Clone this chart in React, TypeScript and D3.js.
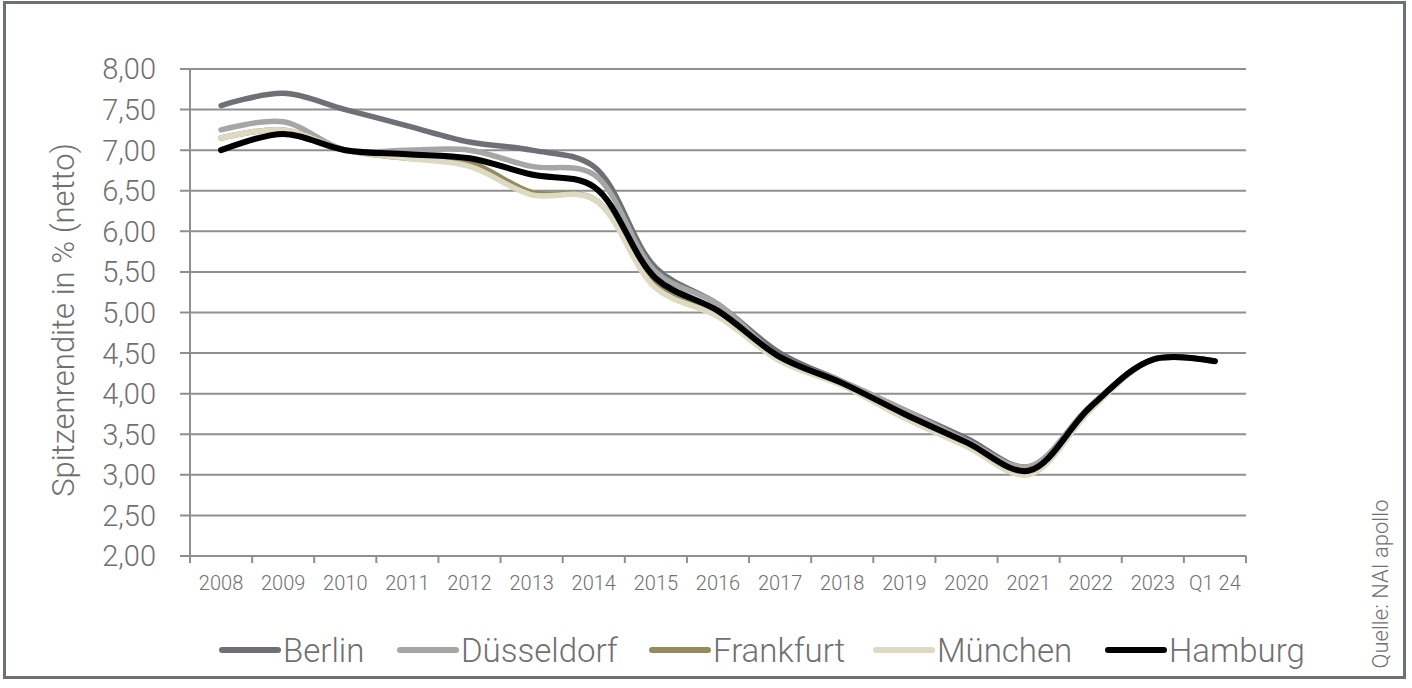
import React from "react";
import * as d3 from "d3";

const categories = ["2008","2009","2010","2011","2012","2013","2014","2015","2016","2017","2018","2019","2020","2021","2022","2023","Q1 24"];
const berlin = [7.55,7.70,7.50,7.30,7.10,7.00,6.80,5.55,5.10,4.50,4.15,3.80,3.45,3.10,3.85,4.42,4.40];
const duesseldorf = [7.25,7.35,7.00,7.00,7.00,6.80,6.70,5.50,5.10,4.45,4.15,3.80,3.42,3.10,3.85,4.42,4.40];
const frankfurt = [7.15,7.25,7.00,6.90,6.85,6.48,6.40,5.35,4.98,4.42,4.12,3.72,3.37,3.02,3.82,4.42,4.40];
const muenchen = [7.15,7.25,7.00,6.90,6.80,6.45,6.40,5.30,4.95,4.40,4.10,3.70,3.35,3.00,3.80,4.42,4.40];
const hamburg = [7.00,7.20,7.00,6.95,6.90,6.70,6.55,5.42,5.02,4.45,4.13,3.75,3.40,3.05,3.84,4.42,4.40];
const yTicks = [2,2.5,3,3.5,4,4.5,5,5.5,6,6.5,7,7.5,8];

const seriesNames = ["Berlin","Düsseldorf","Frankfurt","München","Hamburg"];
const seriesValues = [berlin, duesseldorf, frankfurt, muenchen, hamburg];
const seriesColors = ["#6d7075","#a6a6a6","#948a5c","#ddd9c3","#000000"];

const FONT = "'Helvetica Neue', Roboto, 'Liberation Sans', Arial, sans-serif";

export default function App() {
  const W = 1412, H = 688;
  const left = 190, right = 1246, top = 69, bottom = 556;
  const x = d3.scaleBand<string>().domain(categories).range([left, right]);
  const cx = (c: string) => (x(c) as number) + x.bandwidth() / 2;
  const y = d3.scaleLinear().domain([2, 8]).range([bottom, top]);
  const line = d3.line<number>()
    .x((_, i) => cx(categories[i]))
    .y((v) => y(v))
    .curve(d3.curveCatmullRom.alpha(0.5));
  const fmt = (v: number) => v.toFixed(2).replace(".", ",");
  const gridColor = "#8f8f8f";
  const textColor = "#707070";

  const legendX = [222, 400, 652, 876, 1108];

  return (
    <svg width={W} height={H} style={{ position: "absolute", left: 0, top: 0, display: "block" }} fontFamily={FONT}>
      <rect x={0} y={0} width={W} height={H} fill="#fff" />
      {yTicks.map((t) => (
        <g key={t}>
          <line x1={180} x2={right} y1={y(t)} y2={y(t)} stroke={gridColor} strokeWidth={2} />
          <text x={156} y={y(t)} dy="0.36em" textAnchor="end" fontSize={29} fontWeight={300} fill={textColor}>{fmt(t)}</text>
        </g>
      ))}
      <line x1={left} x2={left} y1={top} y2={bottom + 1} stroke={gridColor} strokeWidth={2} />
      {[...categories.map((c) => x(c) as number), right].map((xx, i) => (
        <line key={i} x1={xx} x2={xx} y1={bottom} y2={bottom + 7} stroke={gridColor} strokeWidth={2} />
      ))}
      {categories.map((c) => (
        <text key={c} x={cx(c)} y={583} dy="0.35em" textAnchor="middle" fontSize={20} fontWeight={300} fill={textColor}>{c}</text>
      ))}
      <text transform={`translate(63,320) rotate(-90)`} textAnchor="middle" dy="0.35em" fontSize={31} fontWeight={300} fill={textColor}>Spitzenrendite in % (netto)</text>
      {seriesValues.map((vals, i) => (
        <path key={seriesNames[i]} d={line(vals) as string} fill="none" stroke={seriesColors[i]} strokeWidth={i === 4 ? 6 : 5.5} strokeLinecap="round" strokeLinejoin="round" />
      ))}
      {seriesNames.map((n, i) => (
        <g key={n}>
          <line x1={legendX[i]} x2={legendX[i] + 56} y1={650} y2={650} stroke={seriesColors[i]} strokeWidth={6} strokeLinecap="round" />
          <text x={legendX[i] + 61} y={650} dy="0.36em" fontSize={33} fontWeight={300} fill={textColor}>{n}</text>
        </g>
      ))}
      <text transform="translate(1380,584) rotate(-90)" textAnchor="middle" dy="0.35em" fontSize={22} fontWeight={300} fill={textColor}>Quelle: NAI apollo</text>
      <rect x={4.5} y={2.5} width={1400} height={675} fill="none" stroke="#6d7075" strokeWidth={3} />
    </svg>
  );
}
